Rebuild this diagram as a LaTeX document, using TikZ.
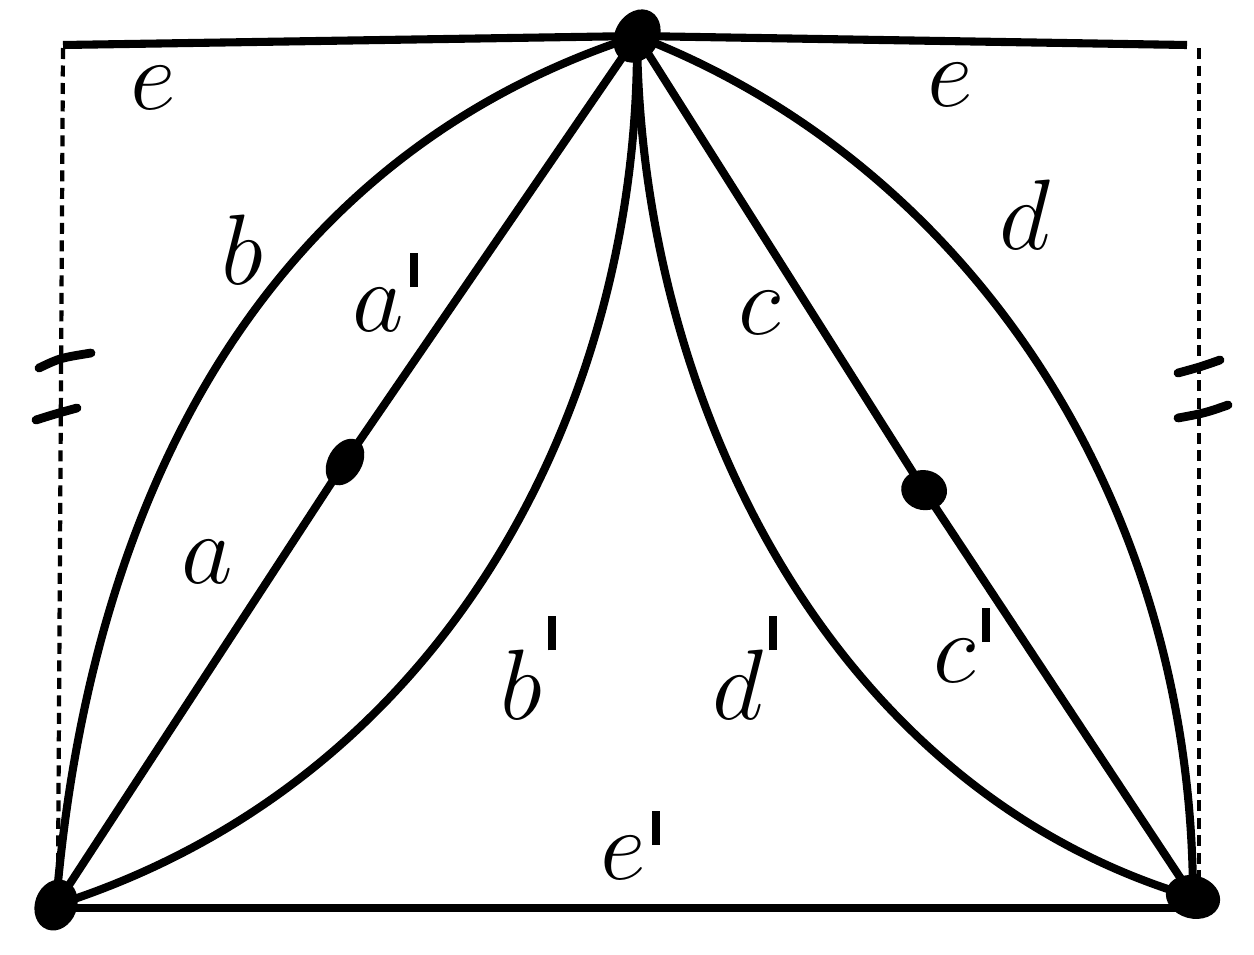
\documentclass[tikz,border=0pt]{standalone}
\usepackage{fix-cm}
\newcommand{\pmk}[1]{\kern0.06em\rule[#1]{0.08em}{0.34em}}
\begin{document}
\begin{tikzpicture}[x=0.02cm,y=-0.02cm,
  edge/.style={line width=4.6pt},
  dashline/.style={line width=2.4pt,dash pattern=on 0.22cm off 0.13cm},
  tick/.style={line width=5pt,line cap=round},
  lab/.style={font=\fontsize{57}{60}\selectfont,inner sep=0pt}]
\useasboundingbox (0,0) rectangle (1254,954);
% vertices
\coordinate (T) at (637,36);
\coordinate (BL) at (56,905);
\coordinate (BR) at (1193,897);
\coordinate (ML) at (345,462);
\coordinate (MR) at (924,490);
\coordinate (TL) at (63,45);
\coordinate (TR) at (1187,45);
\coordinate (BLb) at (56,908);
\coordinate (BRb) at (1190,908);
\coordinate (DL1) at (63,48);
\coordinate (DL2) at (58,880);
\coordinate (DR1) at (1199,48);
\coordinate (DR2) at (1199,880);
% dashed sides
\draw[dashline] (DL1) -- (DL2);
\draw[dashline] (DR1) -- (DR2);
% ticks
\coordinate (tl1a) at (39,368); \coordinate (tl1b) at (91,353);
\coordinate (tl2a) at (36,420); \coordinate (tl2b) at (77,408);
\coordinate (tr1a) at (1178,373); \coordinate (tr1b) at (1220,360);
\coordinate (tr2a) at (1178,418); \coordinate (tr2b) at (1228,405);
\draw[tick] (tl1a) .. controls (60,358) .. (tl1b);
\draw[tick] (tl2a) .. controls (55,414) .. (tl2b);
\draw[tick] (tr1a) .. controls (1200,367) .. (tr1b);
\draw[tick] (tr2a) .. controls (1205,413) .. (tr2b);
% top and bottom lines
\draw[edge] (TL) -- (T) -- (TR);
\draw[edge] (BLb) -- (BRb);
% straight lines
\draw[edge] (BL) -- (ML) -- (T);
\draw[edge] (T) -- (MR) -- (BR);
% curves
\draw[edge] (BL) .. controls (92,470) and (282,150) .. (T);
\draw[edge] (BL) .. controls (450,780) and (640,400) .. (T);
\draw[edge] (T) .. controls (640,400) and (830,790) .. (BR);
\draw[edge] (T) .. controls (960,160) and (1192,490) .. (BR);
% blobs
\fill[rotate around={60:(T)}] (T) ellipse[x radius=0.56cm,y radius=0.44cm];
\fill[rotate around={70:(BL)}] (BL) ellipse[x radius=0.52cm,y radius=0.42cm];
\fill[rotate around={-15:(BR)}] (BR) ellipse[x radius=0.55cm,y radius=0.43cm];
\fill[rotate around={60:(ML)}] (ML) ellipse[x radius=0.5cm,y radius=0.34cm];
\fill[rotate around={-10:(MR)}] (MR) ellipse[x radius=0.46cm,y radius=0.4cm];
% labels
\node[lab] (le1) at (153,88) {$e$};
\node[lab] (le2) at (950,85) {$e$};
\node[lab] (lb) at (242,250) {$b$};
\node[lab] (lap) at (385,292) {$a$\pmk{0.44em}};
\node[lab] (la) at (207,562) {$a$};
\node[lab] (lbp) at (528,668) {$b$\pmk{0.69em}};
\node[lab] (lc) at (760,313) {$c$};
\node[lab] (ld) at (1025,215) {$d$};
\node[lab] (ldp) at (745,668) {$d$\pmk{0.69em}};
\node[lab] (lcp) at (962,645) {$c$\pmk{0.4em}};
\node[lab] (lep) at (630,845) {$e$\pmk{0.34em}};
\end{tikzpicture}
\end{document}
